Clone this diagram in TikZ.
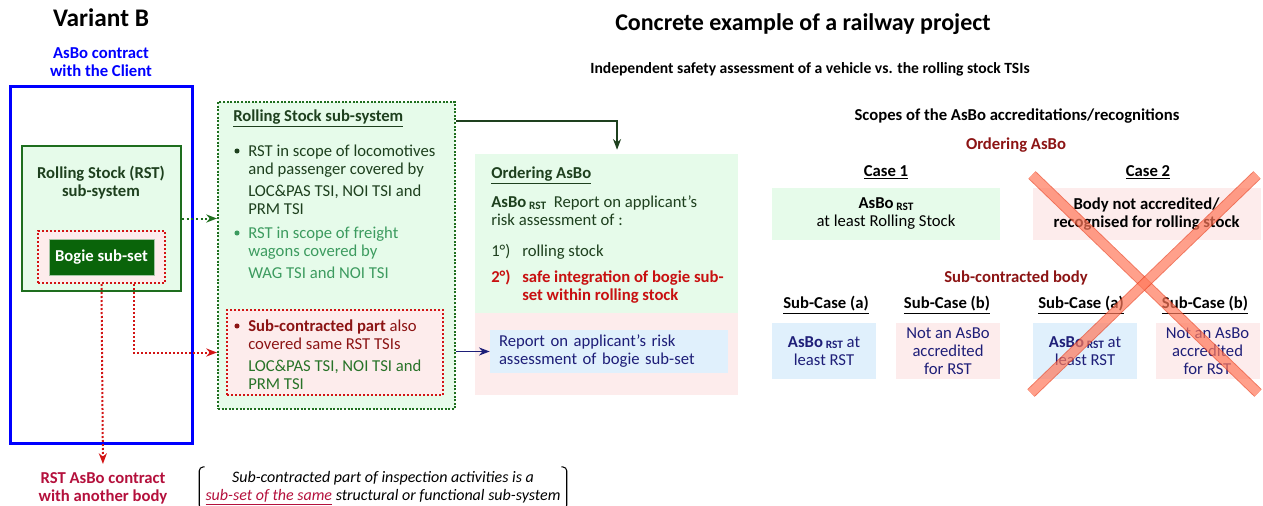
\documentclass[tikz,border=0pt]{standalone}
\usepackage{fontspec}
\setmainfont{Carlito}
\usetikzlibrary{%
  arrows.meta,%
  positioning,%
  fit,%
  calc%
}

\definecolor{clientblue}{RGB}{0,0,255}
\definecolor{rstgreen}{RGB}{30,110,30}
\definecolor{textgreen}{RGB}{30,64,30}
\definecolor{midgreen}{RGB}{60,155,95}
\definecolor{tsigreen}{RGB}{40,115,40}
\definecolor{bogiegreen}{RGB}{10,100,10}
\definecolor{lightgreen}{RGB}{230,251,234}
\definecolor{lightpink}{RGB}{253,236,236}
\definecolor{lightblue}{RGB}{224,240,252}
\definecolor{dotred}{RGB}{210,20,20}
\definecolor{darkred}{RGB}{140,20,20}
\definecolor{safered}{RGB}{200,16,16}
\definecolor{crimson}{RGB}{180,16,60}
\definecolor{navy}{RGB}{30,30,120}
\definecolor{crossedge}{RGB}{235,60,25}
\definecolor{crossfill}{RGB}{255,120,90}

\newcommand\bodyfont{\fontsize{12.5}{13.5}\selectfont}
\newcommand\asbo{\textbf{AsBo}\,{\bfseries\fontsize{8.5}{9}\selectfont\raisebox{-0.3ex}{RST}}}

\begin{document}
\begin{tikzpicture}
  [
  x=0.75pt, y=-0.75pt, >={Stealth[length=8pt, width=6pt, inset=2.5pt]},
  bodytext/.style={font=\bodyfont, inner sep=0pt},
  boldtext/.style={font=\bodyfont\bfseries, inner sep=0pt},
  clientbox/.style={draw=clientblue, line width=2.25pt, inner sep=0pt},
  rstbox/.style={draw=rstgreen, fill=lightgreen, line width=1.5pt, inner sep=0pt},
  sysbox/.style={draw=rstgreen, fill=lightgreen, line width=1.5pt, dash pattern=on 1.5pt off 1.2pt, inner sep=0pt},
  subbox/.style={draw=dotred, fill=lightpink, line width=1.5pt, dash pattern=on 1.5pt off 1.5pt, inner sep=0pt},
  bogiebox/.style={draw=rstgreen!40, fill=bogiegreen, text=white, font=\bodyfont\bfseries, line width=0.6pt},
  dot/.style={circle, inner sep=0pt, minimum size=3.8pt},
  gdotarrow/.style={->, draw=rstgreen, line width=1.5pt, dash pattern=on 1.5pt off 2pt},
  rdotarrow/.style={->, draw=dotred, line width=1.5pt, dash pattern=on 1.5pt off 1.5pt},
  reportbox/.style={fill=lightblue, text=navy, font=\bodyfont, align=left, text width=165pt, inner xsep=6.75pt, minimum height=32.25pt},
  casebox/.style={minimum width=171pt, minimum height=39pt, inner sep=0pt, align=center, font=\bodyfont},
  smallbox/.style={minimum width=78pt, minimum height=42pt, inner sep=0pt, align=center, text=navy, font=\bodyfont},
  crossline/.style={draw=crossedge, line width=0.7pt, double=crossfill, double distance=6.5pt},
  ]

  \useasboundingbox (0,0) rectangle (1263,506);

  % titles
  \node[font=\bfseries\fontsize{19}{22}\selectfont] (variant) at (101,18) {Variant B};
  \node[font=\bfseries\fontsize{18}{22}\selectfont] (title) at (803,24) {Concrete example of a railway project};
  \node[font=\bfseries\fontsize{11.7}{13.5}\selectfont, inner sep=0pt] (subtitle) at (810,69) {Independent safety assessment of a vehicle vs. the rolling stock TSIs};

  % client contract
  \node[boldtext, text=clientblue, align=center] (clientlbl) at (101,62) {AsBo contract\\with the Client};
  \node[clientbox, fit={(10,87) (192,443)}] (client) {};
  \node[rstbox, fit={(22,146) (181,291)}] (rst) {};
  \node[boldtext, text=textgreen, align=center] (rstlbl) at (101,182.5) {Rolling Stock (RST)\\sub-system};
  \node[subbox, fit={(38,231) (165,283)}] (sub) {};
  \node[bogiebox, minimum width=78.75pt, minimum height=27pt] (bogie) at (101.5,257) {Bogie sub-set};

  % rolling stock sub-system
  \node[sysbox, fit={(218,102) (455,409)}] (stsys) {};
  \node[subbox, fit={(227,310) (443,395)}] (subpart) {};
  \node[boldtext, text=textgreen, anchor=west] (stsyslbl) at (233,118) {\underline{Rolling Stock sub-system}};
  \node[dot, fill=textgreen] (dot1) at (237,151) {};
  \node[bodytext, text=textgreen, anchor=west, align=left] (loc) at (248,180) {RST in scope of locomotives\\and passenger covered by\\[3pt]LOC\&PAS TSI, NOI TSI and\\PRM TSI};
  \node[dot, fill=midgreen] (dot2) at (237,233) {};
  \node[bodytext, text=midgreen, anchor=west, align=left] (wag) at (248,253) {RST in scope of freight\\wagons covered by\\[3pt]WAG TSI and NOI TSI};
  \node[dot, fill=darkred] (dot3) at (237,326) {};
  \node[bodytext, anchor=west, align=left] (subtsi) at (248,354.5) {\textcolor{darkred}{\textbf{Sub-contracted part} also}\\\textcolor{darkred}{covered same RST TSIs}\\[3pt]\textcolor{tsigreen}{LOC\&PAS TSI, NOI TSI and}\\\textcolor{tsigreen}{PRM TSI}};

  % ordering AsBo
  \node[fill=lightgreen, inner sep=0pt, fit={(475,154) (738,313)}] (order) {};
  \node[fill=lightpink, inner sep=0pt, fit={(475,313) (738,395)}] (orderrisk) {};
  \node[boldtext, text=textgreen, anchor=west] (orderlbl) at (491,175) {\underline{Ordering AsBo}};
  \node[bodytext, text=textgreen, anchor=west, align=left] (report) at (491,211) {\asbo\ \ Report on applicant’s\\risk assessment of :};
  \node[bodytext, text=textgreen, anchor=west] (item1) at (491,252) {1°)};
  \node[bodytext, text=textgreen, anchor=west] (stock) at (522,252) {rolling stock};
  \node[boldtext, text=safered, anchor=west] (item2) at (491,278) {2°)};
  \node[boldtext, text=safered, anchor=west, align=left] (integ) at (522,287) {safe integration of bogie sub-\\set within rolling stock};
  \node[reportbox] (bogierep) at (609,351.5) {Report on applicant’s risk\\assessment of bogie sub-set};

  % bottom
  \node[boldtext, text=crimson, align=center] (another) at (103,488) {RST AsBo contract\\with another body};
  \node[font=\itshape\fontsize{12}{13.5}\selectfont, align=center, inner xsep=4.5pt, inner ysep=3pt] (note) at (383,488) {Sub-contracted part of inspection activities is a\\\textcolor{crimson}{\underline{sub-set of the same}} structural or functional sub-system};
  \draw[line width=0.8pt, rounded corners=3pt] ([xshift=4pt]note.north west) -- (note.north west) -- (note.south west) -- ([xshift=4pt]note.south west);
  \draw[line width=0.8pt, rounded corners=3pt] ([xshift=-4pt]note.north east) -- (note.north east) -- (note.south east) -- ([xshift=-4pt]note.south east);

  % connectors
  \draw[gdotarrow] (rst.east) -- (rst.east -| stsys.west);
  \draw[rdotarrow] ($(sub.south)!0.5!(sub.south east)$) |- (subpart.west -| stsys.west);
  \draw[rdotarrow, shorten >=6pt] (sub.south) -- (another.north);
  \draw[->, draw=textgreen, line width=1pt] ([yshift=-15pt]stsys.north east) -| ([xshift=7.9pt, yshift=3pt]order.north);
  \draw[->, draw=navy, line width=1pt] (bogierep.west -| stsys.east) -- (bogierep.west);

  % scopes
  \node[boldtext] (scopes) at (1017,116) {Scopes of the AsBo accreditations/recognitions};
  \node[boldtext, text=darkred] (ordering) at (1016,145) {Ordering AsBo};
  \node[boldtext] (case1) at (886,172) {\underline{Case 1}};
  \node[boldtext] (case2) at (1148,172) {\underline{Case 2}};
  \node[casebox, fill=lightgreen] (case1box) at (886,214) {\asbo\\at least Rolling Stock};
  \node[casebox, fill=lightpink, font=\bodyfont\bfseries] (case2box) at (1146.5,214) {Body not accredited/\\recognised for rolling stock};
  \node[boldtext, text=darkred] (subbody) at (1016,278) {Sub-contracted body};
  \foreach \x/\c in {826/a, 947/b, 1081/a, 1205/b}
    \node[boldtext] (sc\x) at (\x,305) {\underline{Sub-Case (\c)}};
  \node[smallbox, fill=lightblue] (subA1) at (824,351) {\asbo\ at\\least RST};
  \node[smallbox, fill=lightpink] (subB1) at (948,351) {Not an AsBo\\accredited\\for RST};
  \node[smallbox, fill=lightblue] (subA2) at (1085,351) {\asbo\ at\\least RST};
  \node[smallbox, fill=lightpink] (subB2) at (1207.5,351) {Not an AsBo\\accredited\\for RST};

  % crossed out
  \begin{scope}[transparency group, opacity=.7]
    \draw[crossline] (1032,175) -- (1258,393);
  \end{scope}
  \begin{scope}[transparency group, opacity=.7]
    \draw[crossline] (1257,175) -- (1031,393);
  \end{scope}
\end{tikzpicture}
\end{document}
